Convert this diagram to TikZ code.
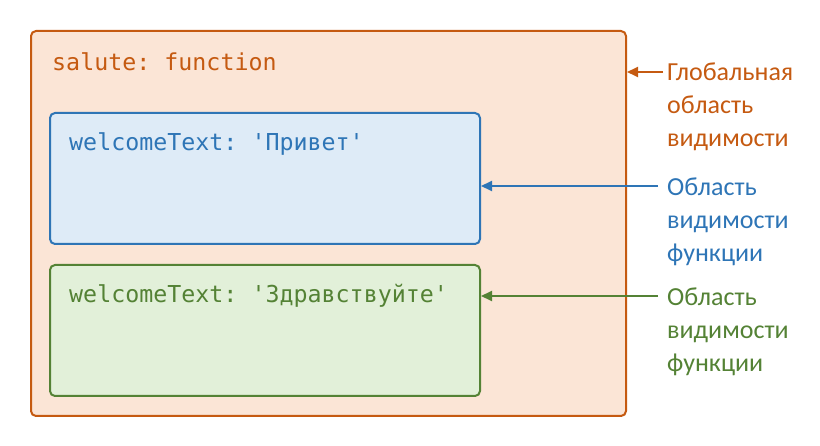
\documentclass[tikz,border=0pt]{standalone}
\usepackage{fontspec}
\setmainfont{Carlito}
\setmonofont{DejaVu Sans Mono}
\usetikzlibrary{arrows.meta}

\definecolor{globline}{HTML}{C55A11}
\definecolor{globfill}{HTML}{FBE5D6}
\definecolor{funcline}{HTML}{2E75B6}
\definecolor{funcfill}{HTML}{DEEBF7}
\definecolor{blockline}{HTML}{548235}
\definecolor{blockfill}{HTML}{E2F0D9}

\tikzset{
  scopebox/.style = {draw, line width = 2pt, rounded corners = 5pt, inner sep = 0pt},
  code/.style = {font = \ttfamily\fontsize{23.3}{28}\selectfont, anchor = base west, inner sep = 0pt},
  lbl/.style = {font = \fontsize{26}{33}\selectfont, align = left, anchor = base west, inner sep = 0pt},
  pointer/.style = {line width = 2pt, -{Triangle[length = 11pt, width = 10pt]}}
}

\begin{document}
\begin{tikzpicture}[x = 1pt, y = -1pt]
  \useasboundingbox (0, 0) rectangle (820, 446);

  % 枠
  \node (outer) [scopebox, draw = globline, fill = globfill, minimum width = 595pt, minimum height = 385pt] at (328.5, 223.5) {};
  \node (func1) [scopebox, draw = funcline, fill = funcfill, minimum width = 430pt, minimum height = 131pt] at (265, 178.5) {};
  \node (func2) [scopebox, draw = blockline, fill = blockfill, minimum width = 430pt, minimum height = 131pt] at (265, 330.5) {};

  % コード
  \node (salute) [code, text = globline] at (52, 71) {salute: function};
  \node (text1) [code, text = funcline] at (69, 151) {welcomeText: 'Привет'};
  \node (text2) [code, text = blockline] at (69, 303) {welcomeText: 'Здравствуйте'};

  % ラベル (基準は最終行)
  \node (globlbl) [lbl, text = globline] at (667, 147) {Глобальная\\область\\видимости};
  \node (lbl1) [lbl, text = funcline] at (667, 262) {Область\\видимости\\функции};
  \node (lbl2) [lbl, text = blockline] at (667, 372) {Область\\видимости\\функции};

  % 矢印
  \coordinate (globtail) at (663, 72);
  \coordinate (tail1) at (658, 186);
  \coordinate (tail2) at (658, 296);
  \draw [pointer, globline] (globtail) -- (globtail -| outer.east);
  \draw [pointer, funcline] (tail1) -- (tail1 -| func1.east);
  \draw [pointer, blockline] (tail2) -- (tail2 -| func2.east);
\end{tikzpicture}
\end{document}
